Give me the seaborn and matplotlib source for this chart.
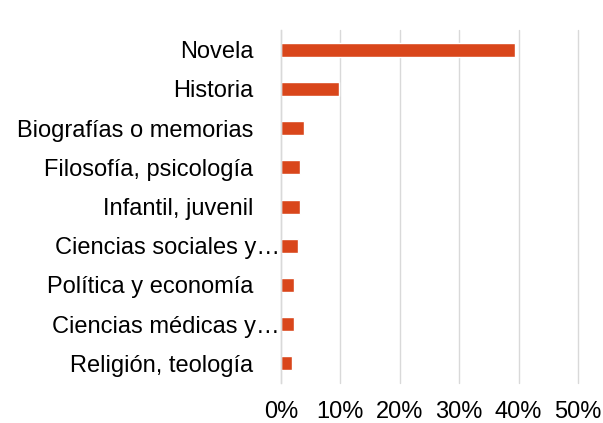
import pandas as pd
import numpy as np
import matplotlib
matplotlib.use("Agg")
import matplotlib.pyplot as plt
import matplotlib.transforms as mtransforms
import seaborn as sns

# Data (share of respondents, %)
categories = ['Novela', 'Historia', 'Biografías o memorias', 'Filosofía, psicología',
              'Infantil, juvenil', 'Ciencias sociales y…', 'Política y economía',
              'Ciencias médicas y…', 'Religión, teología']
values = [39.4, 9.7, 3.9, 3.2, 3.2, 2.9, 2.2, 2.2, 1.8]
x_ticks = [0, 10, 20, 30, 40, 50]
x_tick_labels = ['0%', '10%', '20%', '30%', '40%', '50%']

df = pd.DataFrame({'categoria': categories, 'valor': values})

sns.set_style('white')
plt.rcParams['font.family'] = ['Liberation Sans', 'DejaVu Sans']

fig = plt.figure(figsize=(6.03, 4.23), dpi=100)
ax = fig.add_axes([0.466, 0.0946, 0.4925, 0.834])

sns.barplot(data=df, y='categoria', x='valor', orient='h', color='#D9461B',
            saturation=1, width=0.36, ax=ax)

ax.set_xlim(0, 50)
ax.set_xticks(x_ticks)
ax.set_xticklabels(x_tick_labels)
ax.set_xlabel('')
ax.set_ylabel('')

# Vertical gridlines like Excel
ax.grid(axis='x', color='#d9d9d9', linewidth=1)
ax.set_axisbelow(True)
for gl in ax.get_xgridlines():
    gl.set_clip_on(False)
for side in ['top', 'right', 'bottom']:
    ax.spines[side].set_visible(False)
ax.spines['left'].set_color('#d9d9d9')
ax.spines['left'].set_linewidth(1)

ax.tick_params(axis='both', length=0, labelsize=17, colors='black')
ax.tick_params(axis='x', pad=13)
ax.tick_params(axis='y', pad=20)

# truncated labels sit further right, as in the original
shift = mtransforms.ScaledTranslation(19 / 72, 0, fig.dpi_scale_trans)
for lab in ax.get_yticklabels():
    if lab.get_text().endswith('…'):
        lab.set_transform(lab.get_transform() + shift)

plt.savefig('out.png', dpi=100)
